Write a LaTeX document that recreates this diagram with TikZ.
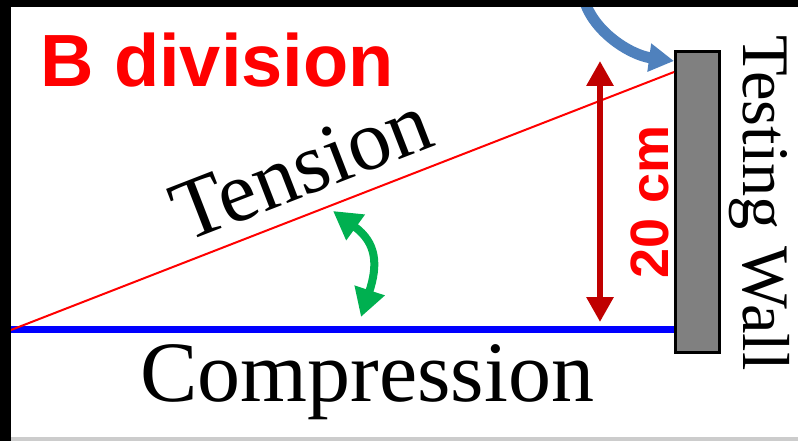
\documentclass[tikz,border=0pt]{standalone}
\usepackage{fontspec}
\setmainfont{Liberation Serif}
\newfontfamily\labelfont{Liberation Sans}
\usetikzlibrary{arrows.meta}
\definecolor{darkred}{RGB}{192,0,0}
\definecolor{greenarr}{RGB}{0,176,80}
\definecolor{bluearr}{RGB}{79,129,189}
\definecolor{wallgray}{RGB}{128,128,128}
\definecolor{lightstrip}{RGB}{204,204,204}

\begin{document}
\begin{tikzpicture}[x=1pt,y=-1pt,
    serifword/.style={inner sep=0pt,font=\fontsize{#1}{#1}\selectfont},
    redword/.style={inner sep=0pt,text=red,font=\labelfont\bfseries\fontsize{#1}{#1}\selectfont},
    wallbox/.style={draw=black,line width=3pt,fill=wallgray,inner sep=0pt,
      minimum width=44pt,minimum height=301pt}]
    \useasboundingbox (0,0) rectangle (798,441);
    \fill[lightstrip] (11,437) rectangle (798,441);
    % wall
    \node[wallbox] (wall) at (697.5,202) {};
    % base and slanted line
    \coordinate (O) at (11,330);
    \coordinate (hit) at (wall.west |- 0,72);
    \draw[blue,line width=6.5pt] (O |- 0,329.5) -- (wall.west |- 0,329.5);
    \draw[red,line width=2pt] (O) -- (hit);
    % height arrow
    \coordinate (dimtop) at (600,61);
    \coordinate (dimbot) at (600,322);
    \draw[darkred,line width=6pt,{Triangle[length=25pt,width=26pt]}-{Triangle[length=25pt,width=26pt]}] (dimtop) -- (dimbot);
    % angle arrow
    \coordinate (angtop) at (333,211);
    \coordinate (angbot) at (361,317);
    \draw[greenarr,line width=8pt,{Triangle[length=28pt,width=30pt]}-{Triangle[length=28pt,width=30pt]}]
      (angtop) .. controls (377,243) and (378,265) .. (angbot);
    % pointer to the wall
    \coordinate (ptrstart) at (583,-5);
    \draw[bluearr,line width=11pt,-{Triangle[length=25pt,width=27pt]}]
      (ptrstart) .. controls (590,30) and (630,55) .. (wall.west |- 0,61);
    % labels
    \node[redword=74,anchor=base west] (title) at (40,87) {B division};
    \node[serifword=86,anchor=base west,rotate=21.2] (tension) at (185,243) {Tension};
    \node[serifword=86,anchor=base west] (compression) at (140,401) {Compression};
    \node[redword=54,anchor=base west,rotate=90] (height) at (668,279) {20 cm};
    \node[serifword=66.5,anchor=base west,rotate=-90] (walllabel) at (743,35) {Testing Wall};
    % frame edges
    \fill[black] (0,0) rectangle (798,7);
    \fill[black] (0,0) rectangle (11,441);
\end{tikzpicture}
\end{document}
